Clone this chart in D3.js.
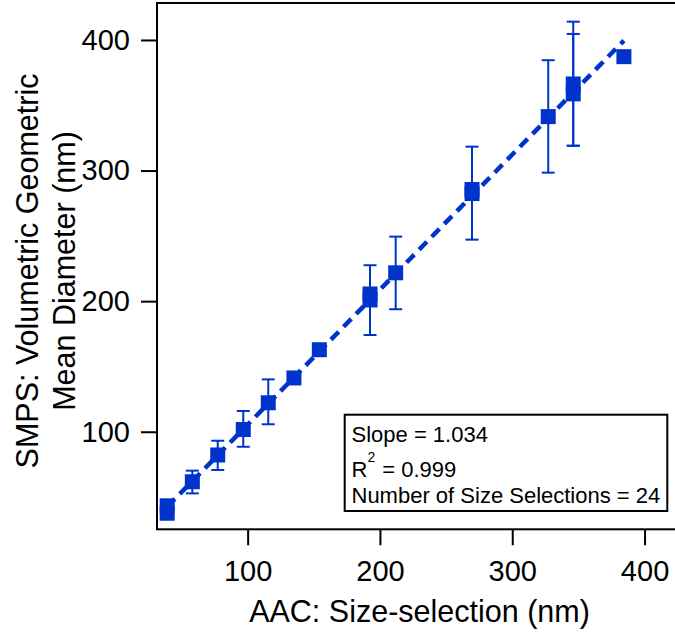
<!DOCTYPE html>
<html>
<head>
<meta charset="utf-8">
<script src="https://cdn.jsdelivr.net/npm/d3@7"></script>
<style>
    body { margin: 0; background: white; }
    svg { display: block; font-family: "Liberation Sans", Arial, sans-serif; }
</style>
</head>
<body>
<div id="graphe"></div>
<script>
// valeurs (nm)
const tailleAAC   = [39.2, 39.2, 58.2, 77.4, 96.7, 115.6, 135.0, 154.2, 192.5, 192.5, 211.9, 269.6, 269.6, 327.2, 346.1, 346.1, 384.4];
const diametreSMPS = [43.3, 37.6, 61.7, 82.2, 101.7, 122.2, 141.2, 162.8, 205.5, 200.9, 221.7, 285.5, 282.4, 341.3, 366.3, 358.7, 387.2];
const erreurPlus  = [0, 0, 8.5, 10.9, 14.2, 17.9, 0, 0, 0, 26.6, 27.7, 0, 35.9, 43.2, 47.7, 45.9, 0];
const erreurMoins = [0, 0, 8.9, 11.5, 13.2, 16.5, 0, 0, 0, 26.8, 27.9, 0, 35.3, 42.9, 47.3, 39.7, 0];

const pente = 1.034;
const ordonnee = 2.0;
const ticksX = [100, 200, 300, 400];
const ticksY = [100, 200, 300, 400];
const legende = ["Slope = 1.034", "= 0.999", "Number of Size Selections = 24"];

const bleu = "#0033cc";
const largeur = 675, hauteur = 632;

const svg = d3.select("#graphe").append("svg")
    .attr("width", largeur)
    .attr("height", hauteur);

// zone du graphe (le bord droit sort de l'image, comme sur l'original)
const gauche = 157, droite = 682, haut = 3, bas = 529.3;

const x = d3.scaleLinear().domain([31.5, 428.3]).range([gauche, droite]);
const y = d3.scaleLinear().domain([25.3, 428.3]).range([bas, haut]);

// cadre
svg.append("rect")
    .attr("x", gauche).attr("y", haut)
    .attr("width", droite - gauche).attr("height", bas - haut)
    .attr("fill", "none")
    .attr("stroke", "black")
    .attr("stroke-width", 2);

// axes
const axeX = svg.append("g")
    .attr("transform", "translate(0," + bas + ")")
    .call(d3.axisBottom(x).tickValues(ticksX).tickSize(16).tickPadding(15).tickSizeOuter(0));
const axeY = svg.append("g")
    .attr("transform", "translate(" + gauche + ",0)")
    .call(d3.axisLeft(y).tickValues(ticksY).tickSize(16).tickPadding(11).tickSizeOuter(0));

[axeX, axeY].forEach(a => {
    a.select(".domain").remove();
    a.selectAll(".tick line").attr("stroke", "black").attr("stroke-width", 2);
    a.selectAll(".tick text")
        .attr("fill", "black")
        .attr("font-size", 29)
        .attr("font-family", "Liberation Sans, Arial, sans-serif");
});

// titres des axes
svg.append("text")
    .attr("x", 419.5).attr("y", 622)
    .attr("text-anchor", "middle")
    .attr("font-size", 30.5)
    .text("AAC: Size-selection (nm)");

const titreY = svg.append("g").attr("transform", "translate(0,271) rotate(-90)");
titreY.append("text")
    .attr("x", 0).attr("y", 38)
    .attr("text-anchor", "middle")
    .attr("font-size", 30.5)
    .text("SMPS: Volumetric Geometric");
titreY.append("text")
    .attr("x", 0).attr("y", 75)
    .attr("text-anchor", "middle")
    .attr("font-size", 30.5)
    .text("Mean Diameter (nm)");

// droite de regression (pointillés)
const xMin = d3.min(tailleAAC), xMax = d3.max(tailleAAC);
svg.append("line")
    .attr("x1", x(xMin)).attr("y1", y(pente * xMin + ordonnee))
    .attr("x2", x(xMax)).attr("y2", y(pente * xMax + ordonnee))
    .attr("stroke", bleu)
    .attr("stroke-width", 4.5)
    .attr("stroke-dasharray", "11,7");

// barres d'erreur
const points = tailleAAC.map((v, i) => ({ x: v, y: diametreSMPS[i], p: erreurPlus[i], m: erreurMoins[i] }));
const barres = svg.append("g").attr("stroke", bleu).attr("stroke-width", 2);
points.filter(d => d.p > 0 || d.m > 0).forEach(d => {
    let cx = x(d.x), haute = y(d.y + d.p), basse = y(d.y - d.m);
    barres.append("line").attr("x1", cx).attr("x2", cx).attr("y1", haute).attr("y2", basse);
    barres.append("line").attr("x1", cx - 6.5).attr("x2", cx + 6.5).attr("y1", haute).attr("y2", haute);
    barres.append("line").attr("x1", cx - 6.5).attr("x2", cx + 6.5).attr("y1", basse).attr("y2", basse);
});

// marqueurs carrés
const cote = 15;
svg.append("g").selectAll("rect")
    .data(points)
    .join("rect")
    .attr("x", d => x(d.x) - cote / 2)
    .attr("y", d => y(d.y) - cote / 2)
    .attr("width", cote)
    .attr("height", cote)
    .attr("fill", bleu);

// boite de legende
svg.append("rect")
    .attr("x", 344.7).attr("y", 414.7)
    .attr("width", 322.6).attr("height", 96.3)
    .attr("fill", "white")
    .attr("stroke", "black")
    .attr("stroke-width", 2);

svg.append("text").attr("x", 351.5).attr("y", 441.7).attr("font-size", 22).text(legende[0]);
const r2 = svg.append("text").attr("x", 351.5).attr("y", 476.7).attr("font-size", 22);
r2.append("tspan").text("R");
r2.append("tspan").attr("dy", -15).attr("font-size", 14).text("2");
r2.append("tspan").attr("dx", 7).attr("dy", 15).text(legende[1]);
svg.append("text").attr("x", 351.5).attr("y", 502.7).attr("font-size", 22).text(legende[2]);
</script>
</body>
</html>
